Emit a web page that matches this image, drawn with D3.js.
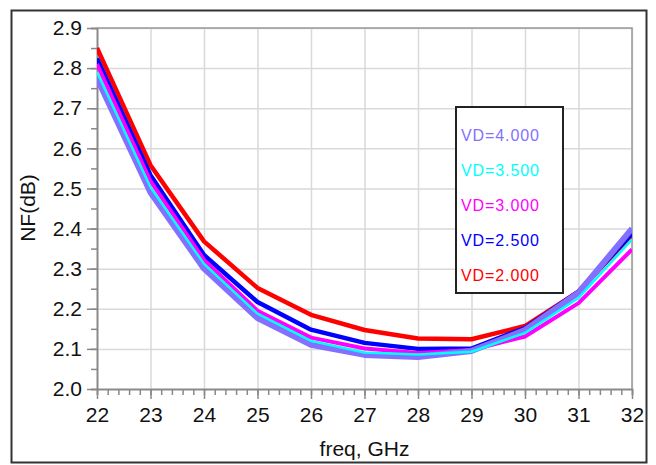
<!DOCTYPE html>
<html>
<head>
<meta charset="utf-8">
<script src="https://cdn.jsdelivr.net/npm/d3@7"></script>
<style>
  body { margin: 0; background: #fff; }
  svg { font-family: Arial, "Liberation Sans", sans-serif; }
  .grid line { stroke: #d9d9d9; stroke-width: 1.5; }
  .axis path, .axis line { stroke: #888; stroke-width: 1.5; }
  .axis text { font-size: 21px; fill: #111; }
</style>
</head>
<body>
<div class="chart"></div>
<script>
// chart data
var freqs = [22, 23, 24, 25, 26, 27, 28, 29, 30, 31, 32];
var nfVd4p0 = [2.775, 2.490, 2.300, 2.177, 2.110, 2.085, 2.080, 2.095, 2.147, 2.240, 2.400];
var nfVd3p5 = [2.790, 2.503, 2.312, 2.188, 2.120, 2.091, 2.086, 2.093, 2.140, 2.227, 2.373];
var nfVd3p0 = [2.810, 2.518, 2.322, 2.195, 2.128, 2.101, 2.090, 2.097, 2.131, 2.214, 2.348];
var nfVd2p5 = [2.824, 2.533, 2.334, 2.217, 2.148, 2.115, 2.100, 2.101, 2.152, 2.243, 2.388];
var nfVd2p0 = [2.850, 2.558, 2.368, 2.252, 2.185, 2.147, 2.126, 2.124, 2.157, 2.243, 2.384];
var legendLabels = ["VD=4.000", "VD=3.500", "VD=3.000", "VD=2.500", "VD=2.000"];
var yTicks = [2.0, 2.1, 2.2, 2.3, 2.4, 2.5, 2.6, 2.7, 2.8, 2.9];

var svgWidth = 656;
var svgHeight = 465;
var margin = { top: 28, right: 24, bottom: 76, left: 97 };
var width = 632 - margin.left;
var height = 389 - margin.top;

var svg = d3.select(".chart")
  .append("svg")
  .attr("width", svgWidth)
  .attr("height", svgHeight);

// outer frame
svg.append("rect")
  .attr("x", 11.5).attr("y", 10.5)
  .attr("width", 635).attr("height", 452)
  .attr("fill", "none")
  .attr("stroke", "#333")
  .attr("stroke-width", 2);

svg.append("clipPath")
  .attr("id", "plotclip")
  .append("rect")
  .attr("width", width).attr("height", height);

var chart = svg.append("g")
  .attr("transform", `translate(${margin.left}, ${margin.top})`);

var x = d3.scaleLinear().domain([22, 32]).range([0, width]);
var y = d3.scaleLinear().domain([2.0, 2.9]).range([height, 0]);

// grid
chart.append("g")
  .attr("class", "grid")
  .call(d3.axisBottom(x).tickValues(freqs).tickSize(height).tickFormat(""))
  .call(g => g.select(".domain").remove());
chart.append("g")
  .attr("class", "grid")
  .call(d3.axisLeft(y).tickValues(yTicks).tickSize(-width).tickFormat(""))
  .call(g => g.select(".domain").remove());

// top and right frame of plot
chart.append("path")
  .attr("d", `M0,0H${width}V${height}`)
  .attr("fill", "none")
  .attr("stroke", "#999")
  .attr("stroke-width", 1.5);

// minor ticks
var xMinor = d3.range(22, 32.001, 0.2);
var yMinor = d3.range(2.0, 2.901, 0.05);
chart.append("g")
  .attr("class", "axis")
  .attr("transform", `translate(0,${height})`)
  .call(d3.axisBottom(x).tickValues(xMinor).tickSize(6).tickFormat(""));
chart.append("g")
  .attr("class", "axis")
  .call(d3.axisLeft(y).tickValues(yMinor).tickSize(6).tickFormat(""));

// major axes
chart.append("g")
  .attr("class", "axis")
  .attr("transform", `translate(0,${height})`)
  .call(d3.axisBottom(x).tickValues(freqs).tickSize(10).tickPadding(8).tickSizeOuter(0).tickFormat(d3.format("d")));
chart.append("g")
  .attr("class", "axis")
  .call(d3.axisLeft(y).tickValues(yTicks).tickSize(10).tickPadding(5).tickSizeOuter(0).tickFormat(d3.format(".1f")));

// lines
var series = [
  { values: nfVd2p0, color: "#ff0000", w: 4.5 },
  { values: nfVd2p5, color: "#0000ff", w: 4.5 },
  { values: nfVd3p0, color: "#ff00ff", w: 4 },
  { values: nfVd4p0, color: "#8470ff", w: 6 },
  { values: nfVd3p5, color: "#00ffff", w: 2.5 }
];
var line = d3.line()
  .x(function(d, i) { return x(freqs[i]); })
  .y(function(d) { return y(d); });

chart.append("g")
  .attr("clip-path", "url(#plotclip)")
  .selectAll(".series")
  .data(series)
  .enter().append("path")
  .attr("class", "series")
  .attr("d", function(d) { return line(d.values); })
  .attr("fill", "none")
  .attr("stroke", function(d) { return d.color; })
  .attr("stroke-width", function(d) { return d.w; })
  .attr("stroke-linejoin", "round");

// axis labels
svg.append("text")
  .attr("x", 364.5)
  .attr("y", 456)
  .attr("text-anchor", "middle")
  .style("font-size", "21px")
  .attr("fill", "#111")
  .text("freq, GHz");

svg.append("text")
  .attr("transform", "translate(35,208) rotate(-90)")
  .attr("text-anchor", "middle")
  .style("font-size", "21px")
  .attr("fill", "#111")
  .text("NF(dB)");

// legend
var legendColors = ["#8470ff", "#00ffff", "#ff00ff", "#0000ff", "#ff0000"];
var legend = svg.append("g");
legend.append("rect")
  .attr("x", 456).attr("y", 107)
  .attr("width", 107).attr("height", 186)
  .attr("fill", "#fff")
  .attr("stroke", "#222")
  .attr("stroke-width", 2);
legend.selectAll("text")
  .data(legendLabels)
  .enter().append("text")
  .attr("x", 461)
  .attr("y", function(d, i) { return 141 + i * 35; })
  .attr("fill", function(d, i) { return legendColors[i]; })
  .style("font-size", "16px")
  .style("letter-spacing", "0.9px")
  .text(function(d) { return d; });
</script>
</body>
</html>
